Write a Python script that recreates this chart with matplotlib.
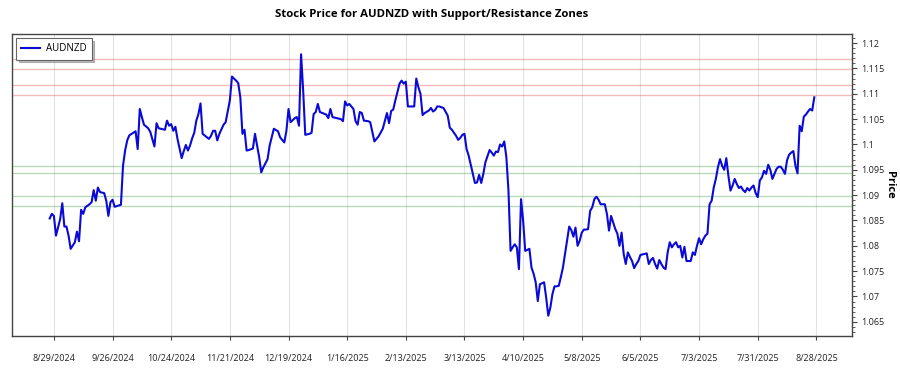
import pandas as pd
import matplotlib
matplotlib.use("Agg")
import matplotlib.pyplot as plt
from matplotlib.ticker import FuncFormatter, MultipleLocator

symbol = "AUDNZD"

dates = [
    "2024-08-27", "2024-08-28", "2024-08-29", "2024-08-30", "2024-09-01", "2024-09-02", "2024-09-03",
    "2024-09-04", "2024-09-05", "2024-09-06", "2024-09-08", "2024-09-09", "2024-09-10", "2024-09-11",
    "2024-09-12", "2024-09-13", "2024-09-15", "2024-09-16", "2024-09-17", "2024-09-18", "2024-09-19",
    "2024-09-20", "2024-09-22", "2024-09-23", "2024-09-24", "2024-09-25", "2024-09-26", "2024-09-27",
    "2024-09-30", "2024-10-01", "2024-10-02", "2024-10-03", "2024-10-04", "2024-10-07", "2024-10-08",
    "2024-10-09", "2024-10-10", "2024-10-11", "2024-10-13", "2024-10-14", "2024-10-16", "2024-10-17",
    "2024-10-18", "2024-10-21", "2024-10-22", "2024-10-23", "2024-10-24", "2024-10-25", "2024-10-26",
    "2024-10-27", "2024-10-29", "2024-10-30", "2024-10-31", "2024-11-01", "2024-11-02", "2024-11-03",
    "2024-11-04", "2024-11-05", "2024-11-06", "2024-11-07", "2024-11-08", "2024-11-11", "2024-11-12",
    "2024-11-13", "2024-11-14", "2024-11-15", "2024-11-16", "2024-11-18", "2024-11-19", "2024-11-21",
    "2024-11-22", "2024-11-24", "2024-11-25", "2024-11-26", "2024-11-27", "2024-11-28", "2024-11-29",
    "2024-11-30", "2024-12-02", "2024-12-03", "2024-12-04", "2024-12-05", "2024-12-06", "2024-12-07",
    "2024-12-09", "2024-12-10", "2024-12-12", "2024-12-14", "2024-12-15", "2024-12-17", "2024-12-18",
    "2024-12-19", "2024-12-20", "2024-12-22", "2024-12-23", "2024-12-24", "2024-12-25", "2024-12-26",
    "2024-12-27", "2024-12-29", "2024-12-30", "2024-12-31", "2025-01-01", "2025-01-02", "2025-01-03",
    "2025-01-06", "2025-01-07", "2025-01-08", "2025-01-09", "2025-01-11", "2025-01-13", "2025-01-14",
    "2025-01-15", "2025-01-16", "2025-01-17", "2025-01-19", "2025-01-20", "2025-01-21", "2025-01-22",
    "2025-01-23", "2025-01-24", "2025-01-26", "2025-01-27", "2025-01-29", "2025-01-30", "2025-01-31",
    "2025-02-02", "2025-02-04", "2025-02-05", "2025-02-06", "2025-02-07", "2025-02-08", "2025-02-10",
    "2025-02-11", "2025-02-12", "2025-02-13", "2025-02-14", "2025-02-17", "2025-02-18", "2025-02-19",
    "2025-02-20", "2025-02-21", "2025-02-22", "2025-02-24", "2025-02-25", "2025-02-26", "2025-02-27",
    "2025-02-28", "2025-03-01", "2025-03-03", "2025-03-05", "2025-03-06", "2025-03-07", "2025-03-09",
    "2025-03-10", "2025-03-11", "2025-03-12", "2025-03-13", "2025-03-14", "2025-03-15", "2025-03-16",
    "2025-03-17", "2025-03-18", "2025-03-19", "2025-03-20", "2025-03-21", "2025-03-22", "2025-03-23",
    "2025-03-25", "2025-03-26", "2025-03-27", "2025-03-28", "2025-03-29", "2025-03-30", "2025-03-31",
    "2025-04-01", "2025-04-02", "2025-04-03", "2025-04-04", "2025-04-05", "2025-04-06", "2025-04-07",
    "2025-04-08", "2025-04-09", "2025-04-10", "2025-04-11", "2025-04-12", "2025-04-13", "2025-04-14",
    "2025-04-15", "2025-04-16", "2025-04-17", "2025-04-18", "2025-04-19", "2025-04-20", "2025-04-21",
    "2025-04-22", "2025-04-23", "2025-04-24", "2025-04-25", "2025-04-26", "2025-04-27", "2025-04-28",
    "2025-04-29", "2025-04-30", "2025-05-01", "2025-05-02", "2025-05-03", "2025-05-04", "2025-05-05",
    "2025-05-06", "2025-05-07", "2025-05-08", "2025-05-09", "2025-05-10", "2025-05-11", "2025-05-12",
    "2025-05-13", "2025-05-14", "2025-05-15", "2025-05-16", "2025-05-17", "2025-05-18", "2025-05-19",
    "2025-05-20", "2025-05-21", "2025-05-22", "2025-05-23", "2025-05-24", "2025-05-25", "2025-05-26",
    "2025-05-27", "2025-05-28", "2025-05-29", "2025-05-30", "2025-05-31", "2025-06-01", "2025-06-02",
    "2025-06-03", "2025-06-04", "2025-06-05", "2025-06-07", "2025-06-08", "2025-06-09", "2025-06-10",
    "2025-06-11", "2025-06-12", "2025-06-13", "2025-06-14", "2025-06-15", "2025-06-16", "2025-06-17",
    "2025-06-18", "2025-06-19", "2025-06-20", "2025-06-21", "2025-06-22", "2025-06-23", "2025-06-24",
    "2025-06-25", "2025-06-26", "2025-06-27", "2025-06-28", "2025-06-29", "2025-06-30", "2025-07-01",
    "2025-07-02", "2025-07-03", "2025-07-04", "2025-07-05", "2025-07-06", "2025-07-07", "2025-07-08",
    "2025-07-09", "2025-07-10", "2025-07-11", "2025-07-12", "2025-07-13", "2025-07-14", "2025-07-15",
    "2025-07-16", "2025-07-17", "2025-07-18", "2025-07-19", "2025-07-20", "2025-07-21", "2025-07-22",
    "2025-07-23", "2025-07-24", "2025-07-25", "2025-07-26", "2025-07-27", "2025-07-28", "2025-07-29",
    "2025-07-30", "2025-07-31", "2025-08-01", "2025-08-02", "2025-08-03", "2025-08-04", "2025-08-05",
    "2025-08-06", "2025-08-07", "2025-08-08", "2025-08-09", "2025-08-10", "2025-08-11", "2025-08-12",
    "2025-08-13", "2025-08-14", "2025-08-15", "2025-08-16", "2025-08-17", "2025-08-18", "2025-08-19",
    "2025-08-20", "2025-08-21", "2025-08-22", "2025-08-23", "2025-08-24", "2025-08-25", "2025-08-26",
    "2025-08-27",
]

prices = [
    1.0854, 1.0863, 1.0859, 1.0820, 1.0853, 1.0884, 1.0838,
    1.0838, 1.0820, 1.0794, 1.0807, 1.0828, 1.0809, 1.0871,
    1.0863, 1.0876, 1.0882, 1.0886, 1.0910, 1.0889, 1.0915,
    1.0906, 1.0904, 1.0889, 1.0859, 1.0886, 1.0891, 1.0877,
    1.0881, 1.0958, 1.0988, 1.1008, 1.1018, 1.1026, 1.0991,
    1.1070, 1.1054, 1.1039, 1.1032, 1.1025, 1.0996, 1.1042,
    1.1032, 1.1029, 1.1047, 1.1037, 1.1040, 1.1027, 1.1035,
    1.1011, 1.0973, 1.0987, 1.0999, 1.0988, 1.0998, 1.1012,
    1.1023, 1.1047, 1.1060, 1.1081, 1.1021, 1.1011, 1.1017,
    1.1027, 1.1027, 1.1008, 1.1021, 1.1039, 1.1044, 1.1087,
    1.1134, 1.1126, 1.1121, 1.1093, 1.1021, 1.1029, 1.0988,
    1.0989, 1.0992, 1.1021, 1.0998, 1.0975, 1.0945, 1.0955,
    1.0971, 1.0998, 1.1031, 1.1026, 1.1014, 1.1004, 1.1027,
    1.1070, 1.1044, 1.1052, 1.1054, 1.1037, 1.1178, 1.1106,
    1.1019, 1.1021, 1.1023, 1.1060, 1.1064, 1.1080, 1.1064,
    1.1059, 1.1052, 1.1070, 1.1054, 1.1052, 1.1050, 1.1046,
    1.1085, 1.1077, 1.1080, 1.1070, 1.1046, 1.1039, 1.1064,
    1.1062, 1.1047, 1.1046, 1.1044, 1.1006, 1.1011, 1.1016,
    1.1031, 1.1062, 1.1042, 1.1066, 1.1069, 1.1087, 1.1120,
    1.1126, 1.1120, 1.1124, 1.1075, 1.1075, 1.1130, 1.1113,
    1.1100, 1.1058, 1.1062, 1.1067, 1.1072, 1.1065, 1.1068,
    1.1075, 1.1075, 1.1072, 1.1057, 1.1033, 1.1029, 1.1017,
    1.1009, 1.1013, 1.1019, 1.1021, 1.0991, 1.0978, 1.0960,
    1.0942, 1.0924, 1.0925, 1.0940, 1.0924, 1.0942, 1.0965,
    1.0989, 1.0984, 1.0978, 1.0986, 1.0985, 1.1000, 1.0996,
    1.1006, 1.0975, 1.0909, 1.0790, 1.0797, 1.0803, 1.0797,
    1.0754, 1.0892, 1.0850, 1.0790, 1.0792, 1.0794, 1.0757,
    1.0745, 1.0728, 1.0691, 1.0724, 1.0726, 1.0728, 1.0698,
    1.0662, 1.0678, 1.0705, 1.0720, 1.0720, 1.0721, 1.0738,
    1.0757, 1.0784, 1.0810, 1.0838, 1.0831, 1.0818, 1.0836,
    1.0800, 1.0810, 1.0826, 1.0832, 1.0832, 1.0833, 1.0869,
    1.0876, 1.0892, 1.0897, 1.0891, 1.0882, 1.0882, 1.0882,
    1.0863, 1.0830, 1.0859, 1.0846, 1.0833, 1.0824, 1.0800,
    1.0826, 1.0784, 1.0764, 1.0787, 1.0778, 1.0770, 1.0756,
    1.0764, 1.0770, 1.0782, 1.0784, 1.0785, 1.0764, 1.0772,
    1.0776, 1.0764, 1.0755, 1.0772, 1.0764, 1.0757, 1.0754,
    1.0787, 1.0807, 1.0797, 1.0803, 1.0807, 1.0797, 1.0800,
    1.0777, 1.0798, 1.0770, 1.0770, 1.0770, 1.0787, 1.0782,
    1.0800, 1.0815, 1.0803, 1.0813, 1.0820, 1.0824, 1.0882,
    1.0889, 1.0915, 1.0932, 1.0955, 1.0971, 1.0958, 1.0950,
    1.0973, 1.0938, 1.0909, 1.0919, 1.0932, 1.0922, 1.0914,
    1.0917, 1.0910, 1.0906, 1.0914, 1.0909, 1.0915, 1.0919,
    1.0904, 1.0896, 1.0929, 1.0935, 1.0948, 1.0942, 1.0960,
    1.0950, 1.0932, 1.0942, 1.0952, 1.0956, 1.0956, 1.0950,
    1.0942, 1.0969, 1.0980, 1.0984, 1.0987, 1.0958, 1.0943,
    1.1037, 1.1026, 1.1055, 1.1059, 1.1065, 1.1070, 1.1067,
    1.1093,
]

resistance_lines = [1.1098, 1.1118, 1.1149, 1.1169]
support_lines = [1.0878, 1.0898, 1.0943, 1.0958]

tick_dates = pd.date_range("2024-08-29", "2025-08-28", freq="28D")
x_limits = ("2024-08-09", "2025-09-14")
y_limits = (1.0622, 1.1218)

plt.rcParams["font.family"] = ["Open Sans", "DejaVu Sans"]

df = pd.DataFrame({"Date": pd.to_datetime(dates), "Close": prices})

fig = plt.figure(figsize=(9, 3.75), dpi=100)
ax = fig.add_axes([12 / 900, 39 / 375, 840 / 900, 302 / 375])

# support / resistance zone edges
for level in resistance_lines:
    ax.axhline(level, color="#f08080", lw=1, alpha=0.55, zorder=1)
for level in support_lines:
    ax.axhline(level, color="#7cbf7c", lw=1, alpha=0.55, zorder=1)

ax.plot(df["Date"], df["Close"], color="#0a0ad8", lw=1.5, label=symbol, zorder=3)

ax.set_xlim(pd.Timestamp(x_limits[0]), pd.Timestamp(x_limits[1]))
ax.set_ylim(*y_limits)

ax.set_xticks(tick_dates)
ax.set_xticklabels([f"{d.month}/{d.day}/{d.year}" for d in tick_dates])
ax.xaxis.grid(True, color="#e2e2e2", lw=0.8)
ax.set_axisbelow(True)

ax.yaxis.tick_right()
ax.yaxis.set_label_position("right")
ax.yaxis.set_major_locator(MultipleLocator(0.005))
ax.yaxis.set_minor_locator(MultipleLocator(0.001))
ax.yaxis.set_major_formatter(FuncFormatter(lambda v, _: f"{round(v, 4):g}"))
ax.set_ylabel("Price", fontsize=8, fontweight="bold", rotation=270, labelpad=8)

ax.tick_params(axis="x", length=3, width=0.8, color="#444444", labelsize=6.5, pad=10, labelcolor="#222222")
ax.tick_params(axis="y", which="major", length=3.5, width=0.8, color="#444444", labelsize=6.5, pad=3,
               labelcolor="#222222")
ax.tick_params(axis="y", which="minor", length=1.8, width=0.6, color="#444444")
for side in ax.spines.values():
    side.set_color("#444444")
    side.set_linewidth(1)

ax.set_title("Stock Price for AUDNZD with Support/Resistance Zones",
             fontsize=8.2, fontweight="bold", pad=12)

leg = ax.legend(loc="upper left", fontsize=7, fancybox=False,
                shadow={"color": "0.55", "alpha": 0.6},
                framealpha=1, edgecolor="#666666", borderaxespad=0.4,
                handlelength=1.9, handletextpad=0.6, borderpad=0.55)
leg.get_frame().set_linewidth(0.8)

fig.savefig("out.png", dpi=100)
